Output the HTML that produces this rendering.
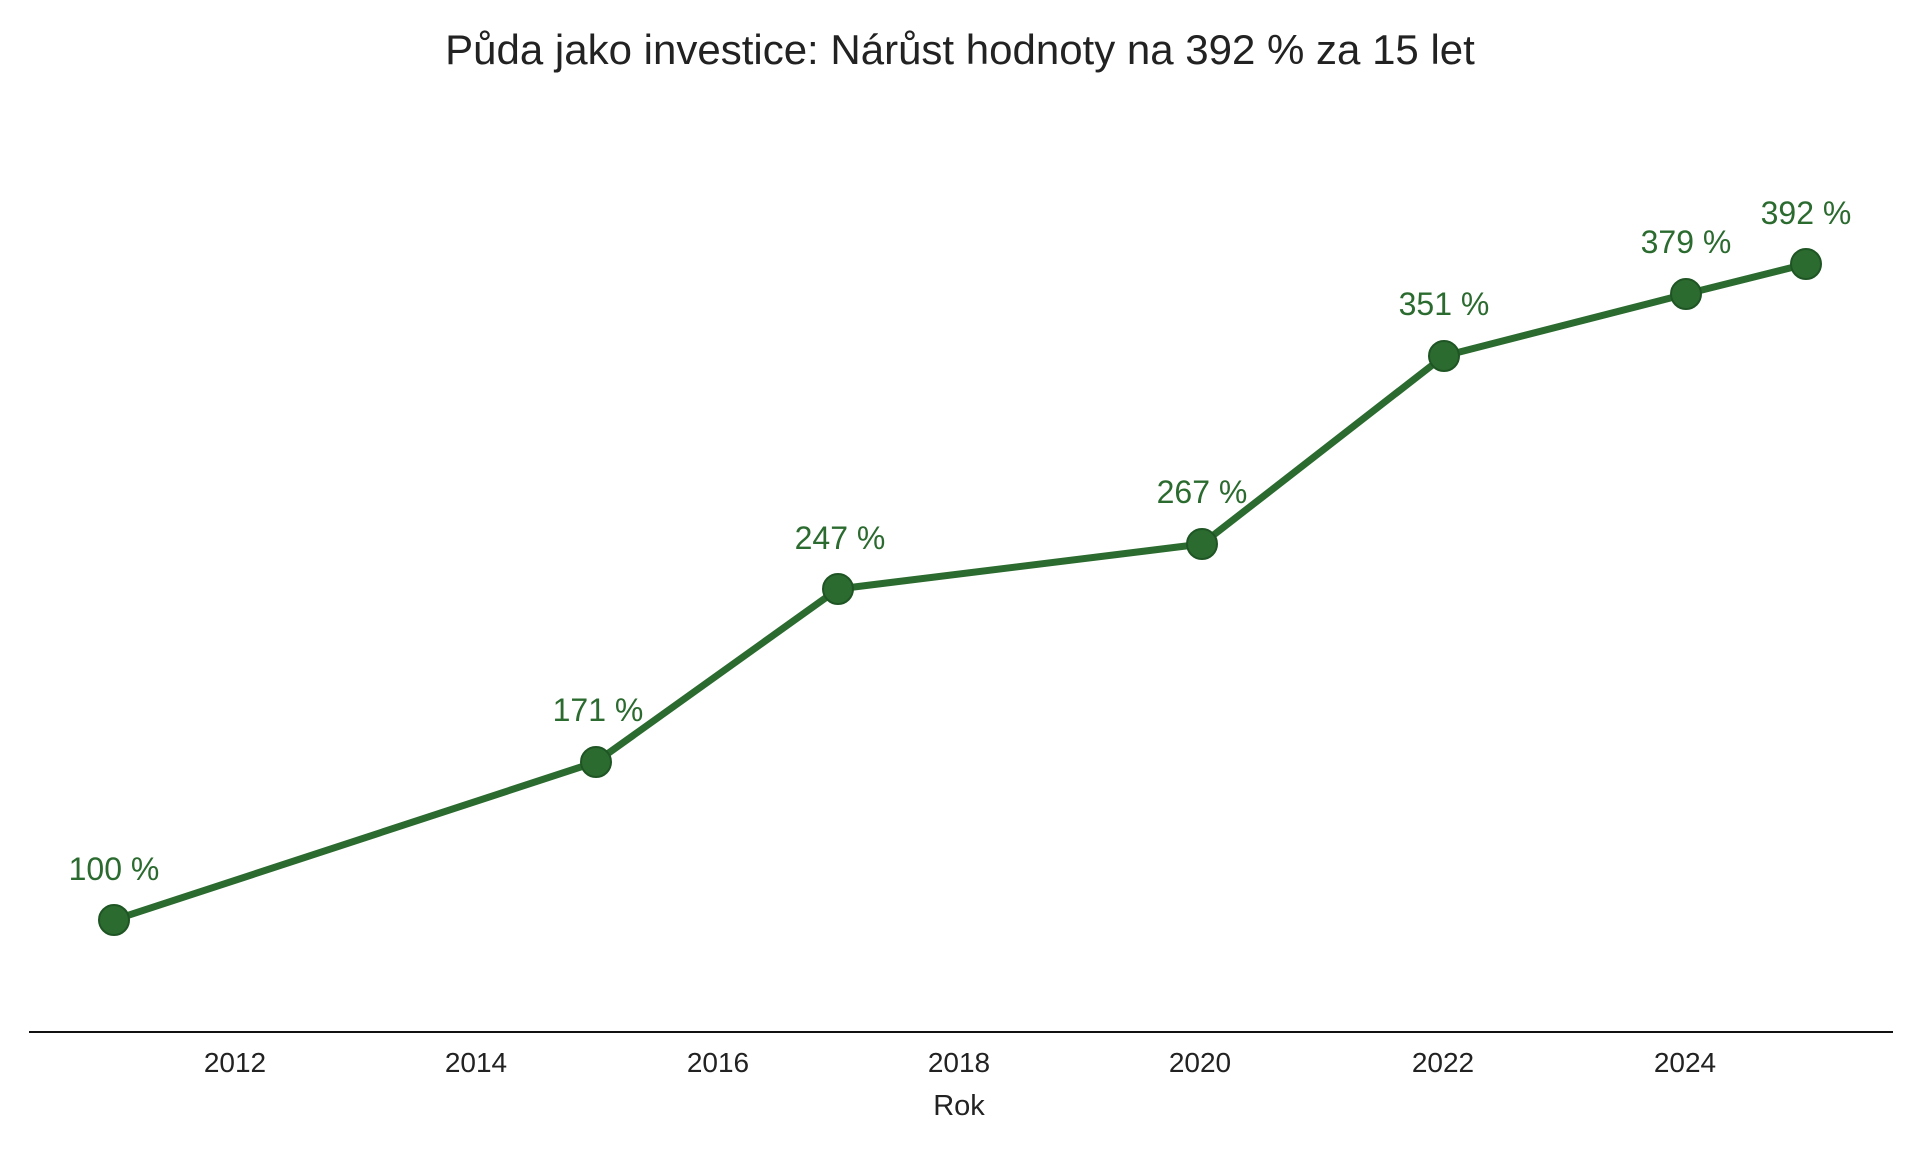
<!DOCTYPE html>
<html><head><meta charset="utf-8"><style>
html,body{margin:0;padding:0;background:#fff;}
svg{display:block;font-family:"Liberation Sans",sans-serif;}
</style></head><body>
<svg width="1920" height="1152" viewBox="0 0 1920 1152" xmlns="http://www.w3.org/2000/svg">
<rect width="1920" height="1152" fill="#fff"/>
<text x="960" y="64" text-anchor="middle" font-size="42" fill="#222">Půda jako investice: Nárůst hodnoty na 392 % za 15 let</text>
<line x1="29" y1="1032" x2="1893" y2="1032" stroke="#111" stroke-width="2"/>
<g font-size="28" fill="#222" text-anchor="middle">
<text x="235" y="1072">2012</text>
<text x="476" y="1072">2014</text>
<text x="718" y="1072">2016</text>
<text x="959" y="1072">2018</text>
<text x="1200" y="1072">2020</text>
<text x="1443" y="1072">2022</text>
<text x="1685" y="1072">2024</text>
<text x="959" y="1115" font-size="29">Rok</text>
</g>
<polyline points="114,920 596,762 838,589 1202,544 1444,356 1686,294 1806,264" fill="none" stroke="#2b6b2f" stroke-width="7" stroke-linejoin="round"/>
<g fill="#2b6b2f" stroke="#1f5524" stroke-width="2">
<circle cx="114" cy="920" r="15"/><circle cx="596" cy="762" r="15"/><circle cx="838" cy="589" r="15"/><circle cx="1202" cy="544" r="15"/><circle cx="1444" cy="356" r="15"/><circle cx="1686" cy="294" r="15"/><circle cx="1806" cy="264" r="15"/>
</g>
<g font-size="32" fill="#2b6b2f" text-anchor="middle">
<text x="114" y="880">100 %</text>
<text x="598" y="721">171 %</text>
<text x="840" y="549">247 %</text>
<text x="1202" y="503">267 %</text>
<text x="1444" y="315">351 %</text>
<text x="1686" y="253">379 %</text>
<text x="1806" y="224">392 %</text>
</g>
</svg>
</body></html>
